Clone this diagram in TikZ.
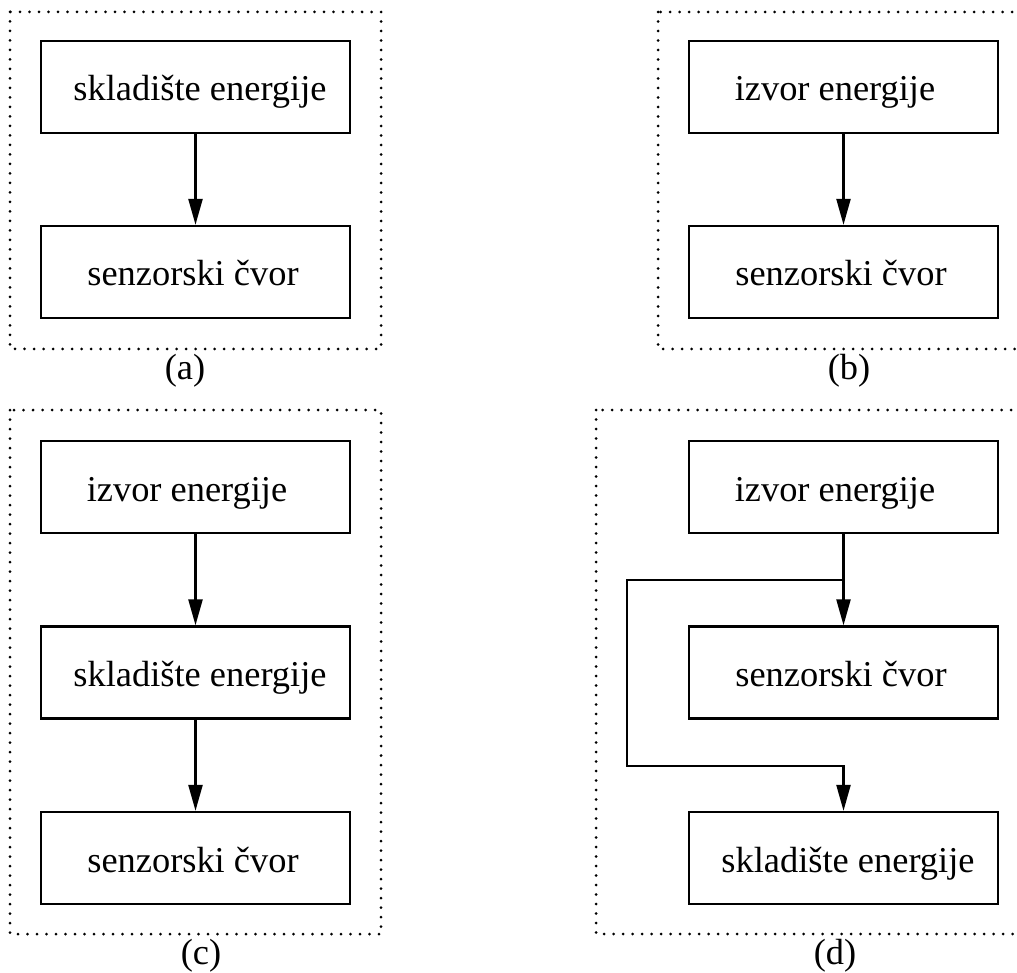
\documentclass[tikz,border=0pt]{standalone}
\usepackage{fontspec}
\setmainfont{Liberation Serif}
\usetikzlibrary{arrows.meta}
\begin{document}
\begin{tikzpicture}[x=1pt,y=-1pt,
 box/.style={draw, line width=2.3pt, minimum width=309pt, minimum height=92pt, inner sep=0pt, anchor=center},
 txt/.style={font=\fontsize{36.4}{40}\selectfont, inner sep=0pt, anchor=base},
 arr/.style={line width=2.3pt, -{Triangle[length=26pt,width=14pt]}},
 frame/.style={line width=3pt, line cap=round, dash pattern=on 0pt off 9.5pt}]
\clip (0,0) rectangle (1017,973);
\fill[white] (0,0) rectangle (1017,973);
% frames
\draw[frame] (10,12) rectangle (381,349);
\draw[frame] (658,12) rectangle (1030,349);
\draw[frame] (10,410) rectangle (381,934);
\draw[frame] (596,410) rectangle (1030,934);
% (a)
\node[box] (a1) at (195.5,87) {};
\node[box] (a2) at (195.5,272) {};
\node[txt] (a1t) at ([xshift=4.5pt,yshift=-14pt]a1.center) {skladište energije};
\node[txt] (a2t) at ([xshift=-2.5pt,yshift=-14pt]a2.center) {senzorski čvor};
\draw[arr] (a1.south) -- (a2.north);
\node[txt] (la) at (185,380) {(a)};
% (b)
\node[box] (b1) at (843.5,87) {};
\node[box] (b2) at (843.5,272) {};
\node[txt] (b1t) at ([xshift=-8.5pt,yshift=-14pt]b1.center) {izvor energije};
\node[txt] (b2t) at ([xshift=-2.5pt,yshift=-14pt]b2.center) {senzorski čvor};
\draw[arr] (b1.south) -- (b2.north);
\node[txt] (lb) at (849,380) {(b)};
% (c)
\node[box] (c1) at (195.5,487) {};
\node[box] (c2) at (195.5,672.5) {};
\node[box] (c3) at (195.5,858) {};
\node[txt] (c1t) at ([xshift=-8.5pt,yshift=-14pt]c1.center) {izvor energije};
\node[txt] (c2t) at ([xshift=4.5pt,yshift=-14pt]c2.center) {skladište energije};
\node[txt] (c3t) at ([xshift=-2.5pt,yshift=-14pt]c3.center) {senzorski čvor};
\draw[arr] (c1.south) -- (c2.north);
\draw[arr] (c2.south) -- (c3.north);
\node[txt] (lc) at (201,964) {(c)};
% (d)
\node[box] (d1) at (843.5,487) {};
\node[box] (d2) at (843.5,672.5) {};
\node[box] (d3) at (843.5,858) {};
\node[txt] (d1t) at ([xshift=-8.5pt,yshift=-14pt]d1.center) {izvor energije};
\node[txt] (d2t) at ([xshift=-2.5pt,yshift=-14pt]d2.center) {senzorski čvor};
\node[txt] (d3t) at ([xshift=4.5pt,yshift=-14pt]d3.center) {skladište energije};
\draw[arr] (d1.south) -- (d2.north);
\coordinate (dj1) at (843.5,580);
\coordinate (dl1) at (627,580);
\coordinate (dl2) at (627,766);
\coordinate (dj2) at (843.5,766);
\draw[arr, line join=miter] (dj1) -- (dl1) -- (dl2) -- (dj2) -- (d3.north);
\node[txt] (ld) at (835,964) {(d)};
\end{tikzpicture}
\end{document}
